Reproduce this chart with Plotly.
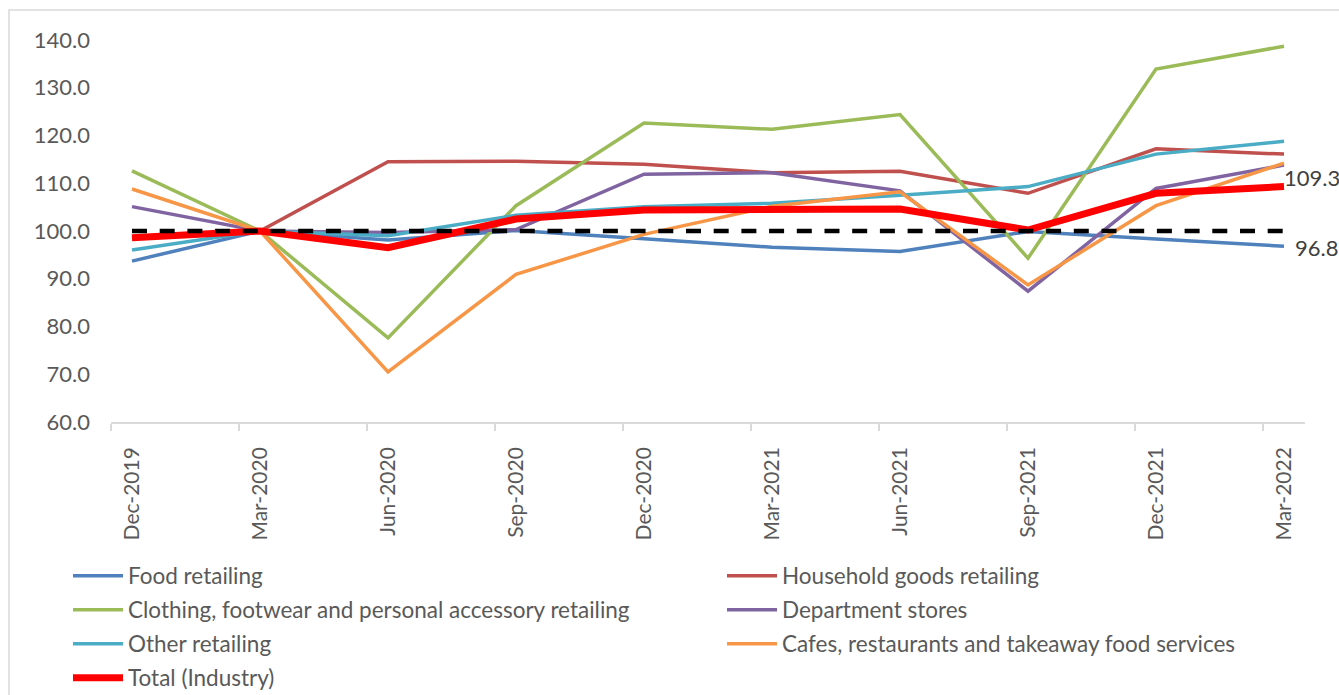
import plotly.graph_objects as go

categories = ["Dec-2019", "Mar-2020", "Jun-2020", "Sep-2020", "Dec-2020",
              "Mar-2021", "Jun-2021", "Sep-2021", "Dec-2021", "Mar-2022"]

food = [93.7, 100.0, 98.1, 100.1, 98.4, 96.6, 95.7, 99.9, 98.3, 96.8]
household = [98.6, 100.0, 114.5, 114.6, 114.0, 112.2, 112.5, 107.9, 117.2, 116.1]
clothing = [112.6, 100.0, 77.6, 105.3, 122.6, 121.3, 124.4, 94.3, 133.9, 138.7]
department = [105.1, 100.0, 99.7, 100.3, 111.9, 112.2, 108.4, 87.4, 108.9, 113.8]
other = [96.0, 100.0, 99.0, 103.3, 105.1, 105.8, 107.5, 109.3, 116.1, 118.8]
cafes = [108.8, 100.0, 70.5, 90.9, 99.3, 105.2, 108.2, 88.7, 105.3, 114.2]
total = [98.6, 100.0, 96.5, 102.5, 104.4, 104.4, 104.6, 100.2, 107.9, 109.3]
baseline = [100.0] * 10

y_ticks = [60, 70, 80, 90, 100, 110, 120, 130, 140]

series = [
    ("Food retailing", food, "#4F81BD", 3.5),
    ("Household goods retailing", household, "#C0504D", 3.5),
    ("Clothing, footwear and personal accessory retailing", clothing, "#9BBB59", 3.5),
    ("Department stores", department, "#8064A2", 3.5),
    ("Other retailing", other, "#4BACC6", 3.5),
    ("Cafes, restaurants and takeaway food services", cafes, "#F79646", 3.5),
    ("Total (Industry)", total, "#FF0000", 7),
]

FONT = "Lato"
TXT = "#595959"
xs = list(range(len(categories)))

# plot-area geometry in pixels (used for legend placement only)
L, R, T, B = 111, 34, 40, 273
W, H = 1339, 695
pw, ph = W - L - R, H - T - B

fig = go.Figure()
legend_ids = ["legend"] + [f"legend{i}" for i in range(2, len(series) + 1)]
legend_layouts = {}
for i, (name, vals, color, w) in enumerate(series):
    lid = legend_ids[i]
    fig.add_trace(go.Scatter(x=xs, y=vals, name=name, mode="lines",
                             line=dict(color=color, width=w), legend=lid))
    col, row = i % 2, i // 2
    px_x = 68 + col * 654
    px_y = 576 + row * 34
    legend_layouts[lid] = dict(
        x=(px_x - L) / pw, y=(H - B - px_y) / ph,
        xanchor="left", yanchor="middle", orientation="v",
        font=dict(family=FONT, size=22.5, color=TXT),
        itemwidth=50, bgcolor="rgba(0,0,0,0)",
    )
fig.add_trace(go.Scatter(x=xs, y=baseline, mode="lines", showlegend=False,
                         line=dict(color="#000000", width=4.5, dash="15px,12.7px")))

fig.add_annotation(x=xs[-1], y=total[-1], text=f"{total[-1]:.1f}", showarrow=False,
                   xanchor="left", yanchor="middle", xshift=-2, yshift=9,
                   font=dict(family=FONT, size=22, color="#404040"))
fig.add_annotation(x=xs[-1], y=food[-1], text=f"{food[-1]:.1f}", showarrow=False,
                   xanchor="left", yanchor="middle", xshift=9, yshift=-1,
                   font=dict(family=FONT, size=22, color="#404040"))

# chart-area border
fig.add_shape(type="rect", xref="paper", yref="paper",
              x0=(9 - L) / pw, x1=(1345 - L) / pw,
              y0=(H - B - 705) / ph, y1=(H - B - 10) / ph,
              line=dict(color="#D9D9D9", width=1.5), layer="below")

off = 0.164
fig.update_layout(
    width=W, height=H,
    margin=dict(l=L, r=R, t=T, b=B, autoexpand=False),
    paper_bgcolor="white", plot_bgcolor="white",
    font=dict(family=FONT, size=22, color=TXT),
    xaxis=dict(
        range=[-off, len(categories) - 1 + off],
        tickmode="array", tickvals=xs, ticktext=categories,
        tickangle=-90, ticks="", ticklabelstandoff=15,
        showline=True, linecolor="#D9D9D9", linewidth=1.5,
        showgrid=False, zeroline=False,
        tickfont=dict(family=FONT, size=21, color=TXT),
        minor=dict(tickmode="array", tickvals=[x - off for x in xs],
                   ticks="outside", ticklen=7, tickcolor="#D9D9D9", tickwidth=1.5,
                   showgrid=False),
    ),
    yaxis=dict(
        range=[60, 140], tickmode="array", tickvals=y_ticks, tickformat=".1f",
        showgrid=False, zeroline=False, showline=False, ticks="",
        ticklabelstandoff=20,
        tickfont=dict(family=FONT, size=22, color=TXT),
    ),
    showlegend=True,
    **legend_layouts,
)

fig.write_html("out.html")
